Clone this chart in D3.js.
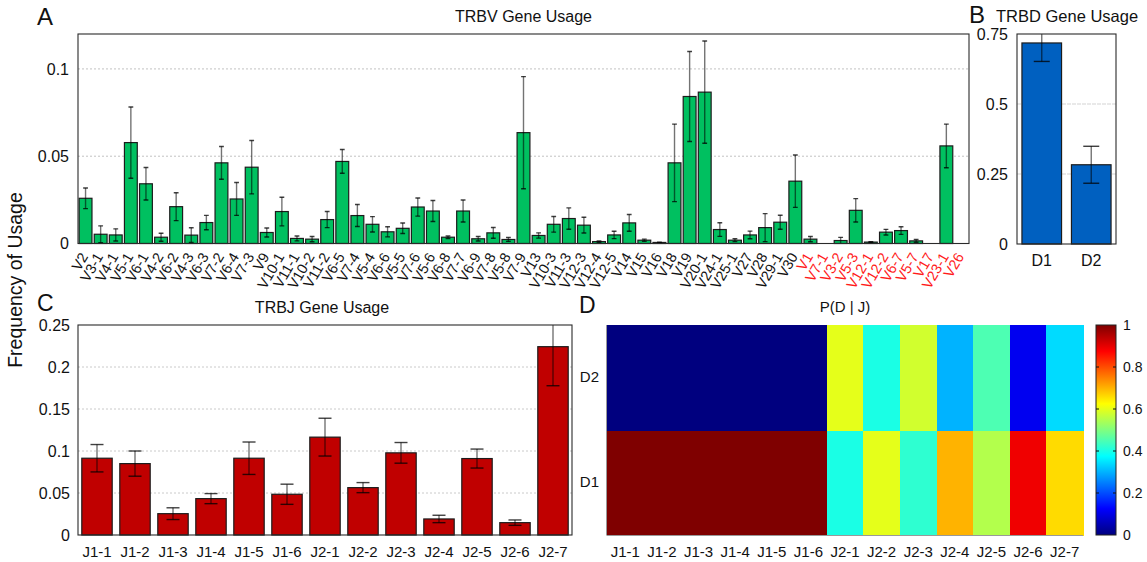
<!DOCTYPE html>
<html>
<head>
<meta charset="utf-8">
<script src="https://cdn.jsdelivr.net/npm/d3@7"></script>
<style>
  body { margin: 0; background: #fff; }
  svg { display: block; font-family: "Liberation Sans", Arial, Helvetica, sans-serif; }
</style>
</head>
<body>
<svg id="fig" width="1147" height="562"></svg>
<script>
// ---- TRBV usage (functional genes, then genes drawn in red) ----
const vGenes = ["V2","V3-1","V4-1","V5-1","V6-1","V4-2","V6-2","V4-3","V6-3","V7-2","V6-4","V7-3",
  "V9","V10-1","V11-1","V10-2","V11-2","V6-5","V7-4","V5-4","V6-6","V5-5","V7-6","V5-6","V6-8",
  "V7-7","V6-9","V7-8","V5-8","V7-9","V13","V10-3","V11-3","V12-3","V12-4","V12-5","V14","V15",
  "V16","V18","V19","V20-1","V24-1","V25-1","V27","V28","V29-1","V30"];
const vGenesRed = ["V1","V7-1","V3-2","V5-3","V12-1","V12-2","V6-7","V5-7","V17","V23-1","V26"];
const vFreq = [0.0259,0.0053,0.0049,0.0578,0.0342,0.0036,0.0211,0.0048,0.0120,0.0462,0.0255,0.0437,
  0.0063,0.0183,0.0029,0.0025,0.0137,0.0470,0.0160,0.0110,0.0067,0.0087,0.0209,0.0186,0.0036,
  0.0186,0.0027,0.0061,0.0023,0.0635,0.0046,0.0110,0.0143,0.0105,0.0011,0.0049,0.0118,0.0019,
  0.0006,0.0462,0.0842,0.0867,0.0080,0.0019,0.0049,0.0091,0.0122,0.0357,
  0.0025,0,0.0017,0.0190,0.0008,0.0065,0.0074,0.0015,0,0.0559,0];
const vErr = [0.0059,0.0048,0.0035,0.0204,0.0093,0.0023,0.0080,0.0042,0.0041,0.0094,0.0094,0.0153,
  0.0026,0.0082,0.0014,0.0015,0.0046,0.0068,0.0063,0.0044,0.0029,0.0030,0.0052,0.0060,0.0007,
  0.0063,0.0013,0.0031,0.0011,0.0321,0.0015,0.0045,0.0061,0.0045,0.0004,0.0021,0.0048,0.0006,
  0.0002,0.0222,0.0258,0.0293,0.0039,0.0008,0.0022,0.0080,0.0040,0.0150,
  0.0015,0,0.0018,0.0067,0.0002,0.0016,0.0022,0.0008,0,0.0125,0];
const vTicks = [0, 0.05, 0.1];

// ---- TRBD usage ----
const dGenes = ["D1","D2"];
const dFreq = [0.718, 0.283];
const dErr = [0.066, 0.066];
const dTicks = [0, 0.25, 0.5, 0.75];

// ---- TRBJ usage ----
const jGenes = ["J1-1","J1-2","J1-3","J1-4","J1-5","J1-6","J2-1","J2-2","J2-3","J2-4","J2-5","J2-6","J2-7"];
const jFreq = [0.0914,0.0850,0.0254,0.0433,0.0914,0.0485,0.1165,0.0564,0.0978,0.0191,0.0910,0.0147,0.2242];
const jErr  = [0.0163,0.0150,0.0070,0.0060,0.0193,0.0120,0.0225,0.0060,0.0123,0.0044,0.0113,0.0032,0.0465];
const jTicks = [0, 0.05, 0.1, 0.15, 0.2, 0.25];

// ---- P(D | J) ----
const pRows = ["D2","D1"];
const pD1 = [1,1,1,1,1,1,0.40,0.60,0.42,0.70,0.55,0.89,0.66];
const pD2 = [0,0,0,0,0,0,0.60,0.40,0.58,0.30,0.45,0.11,0.34];
const cbTicks = [0, 0.2, 0.4, 0.6, 0.8, 1];

const svg = d3.select("#fig");
const fmt = d => String(d);

// jet colormap as a piecewise-linear scale
const jet = d3.scaleLinear()
  .domain([0, 0.125, 0.375, 0.625, 0.875, 1])
  .range(["#00007f", "#0000ff", "#00ffff", "#ffff00", "#ff0000", "#7f0000"])
  .interpolate(d3.interpolateRgb)
  .clamp(true);

function styleAxis(g, size) {
  g.select(".domain").remove();
  g.attr("font-family", null).attr("font-size", size);
  g.selectAll("text").attr("fill", "#111");
}

// Generic bar panel with error bars, grid and frame
function barPanel(o) {
  const g = svg.append("g");
  const x = d3.scaleBand().domain(o.cats).range([o.x0, o.x1])
    .paddingInner(o.padIn).paddingOuter(o.padOut);
  const y = d3.scaleLinear().domain([0, o.max]).range([o.y1, o.y0]);

  const clipId = "clip-" + o.id;
  g.append("clipPath").attr("id", clipId)
    .append("rect").attr("x", o.x0).attr("y", o.y0)
    .attr("width", o.x1 - o.x0).attr("height", o.y1 - o.y0);

  // grid
  g.append("g").selectAll("line")
    .data(o.ticks.filter(t => t > 0 && t < o.max))
    .join("line")
    .attr("x1", o.x0).attr("x2", o.x1)
    .attr("y1", d => y(d)).attr("y2", d => y(d))
    .attr("stroke", o.gridColor).attr("stroke-width", o.gridWidth)
    .attr("stroke-dasharray", o.gridDash);

  const data = o.cats.map((c, i) => ({ c, v: o.vals[i], e: o.errs[i] }));

  // bars
  g.append("g").selectAll("rect")
    .data(data)
    .join("rect")
    .attr("x", d => x(d.c))
    .attr("y", d => y(d.v))
    .attr("width", x.bandwidth())
    .attr("height", d => y(0) - y(d.v))
    .attr("fill", o.color)
    .attr("stroke", "#1c1c1c")
    .attr("stroke-width", 1.2);

  // error bars
  const eb = g.append("g").attr("clip-path", `url(#${clipId})`)
    .selectAll("g").data(data.filter(d => d.e > 0)).join("g");
  const cx = d => x(d.c) + x.bandwidth() / 2;
  eb.append("line")
    .attr("x1", cx).attr("x2", cx)
    .attr("y1", d => y(d.v + d.e)).attr("y2", d => y(d.v - d.e))
    .attr("stroke", "#000").attr("stroke-opacity", 0.55).attr("stroke-width", 1.4);
  [1, -1].forEach(s => {
    eb.append("line")
      .attr("x1", d => cx(d) - o.cap).attr("x2", d => cx(d) + o.cap)
      .attr("y1", d => y(d.v + s * d.e)).attr("y2", d => y(d.v + s * d.e))
      .attr("stroke", "#000").attr("stroke-opacity", 0.75).attr("stroke-width", 1.4);
  });

  // frame
  g.append("rect")
    .attr("x", o.x0).attr("y", o.y0)
    .attr("width", o.x1 - o.x0).attr("height", o.y1 - o.y0)
    .attr("fill", "none").attr("stroke", "#2a2a2a").attr("stroke-width", 1.1);

  // y axis
  const ya = g.append("g").attr("transform", `translate(${o.x0},0)`)
    .call(d3.axisLeft(y).tickValues(o.ticks).tickSize(0).tickPadding(o.yPad).tickFormat(fmt));
  styleAxis(ya, o.yFont);

  // x axis
  const xa = g.append("g").attr("transform", `translate(0,${o.y1})`)
    .call(d3.axisBottom(x).tickSize(0).tickPadding(o.xPad));
  styleAxis(xa, o.xFont);
  return { g, x, y, xa };
}

// ---- Panel A ----
const A = barPanel({
  id: "A", cats: vGenes.concat(vGenesRed), vals: vFreq, errs: vErr,
  x0: 78, x1: 969, y0: 34, y1: 243.5, max: 0.12, ticks: vTicks,
  padIn: 0.15, padOut: 0.075, color: "#00c060", cap: 2.4,
  gridColor: "#bbb", gridWidth: 0.9, gridDash: "2,2",
  yPad: 9, yFont: 16, xPad: 0, xFont: 14.5
});
A.xa.selectAll("text")
  .attr("y", 0).attr("dy", 0).attr("x", 0)
  .attr("text-anchor", "end")
  .attr("transform", "translate(3,13) rotate(-60)")
  .attr("fill", d => vGenesRed.includes(d) ? "#ff1a1a" : "#111");

// ---- Panel B ----
barPanel({
  id: "B", cats: dGenes, vals: dFreq, errs: dErr,
  x0: 1017, x1: 1116, y0: 34, y1: 244, max: 0.75, ticks: dTicks,
  padIn: 0.2, padOut: 0.1, color: "#0060c0", cap: 8,
  gridColor: "#e2e2e2", gridWidth: 1.3, gridDash: "4,1",
  yPad: 9, yFont: 16, xPad: 11, xFont: 16
});

// ---- Panel C ----
barPanel({
  id: "C", cats: jGenes, vals: jFreq, errs: jErr,
  x0: 78, x1: 572, y0: 325, y1: 535, max: 0.25, ticks: jTicks,
  padIn: 0.2, padOut: 0.1, color: "#c00000", cap: 6.5,
  gridColor: "#c4c4c4", gridWidth: 0.9, gridDash: "2,2",
  yPad: 8, yFont: 16, xPad: 11, xFont: 15
});

// ---- Panel D: heatmap of P(D | J) ----
const hx = d3.scaleBand().domain(jGenes).range([607, 1083]);
const hy = d3.scaleBand().domain(pRows).range([325, 535]);
const cells = [];
jGenes.forEach((j, i) => {
  cells.push({ j, d: "D1", v: pD1[i] });
  cells.push({ j, d: "D2", v: pD2[i] });
});
const hg = svg.append("g");
hg.selectAll("rect").data(cells).join("rect")
  .attr("x", d => hx(d.j)).attr("y", d => hy(d.d))
  .attr("width", hx.bandwidth() + 0.6).attr("height", hy.bandwidth() + 0.6)
  .attr("fill", d => jet(d.v))
  .attr("shape-rendering", "crispEdges");
hg.append("line").attr("x1", 607).attr("x2", 1083).attr("y1", 535.5).attr("y2", 535.5)
  .attr("stroke", "#999").attr("stroke-width", 1);
hg.append("line").attr("x1", 606.5).attr("x2", 606.5).attr("y1", 325).attr("y2", 535.5)
  .attr("stroke", "#999").attr("stroke-width", 1);

const hxa = hg.append("g").attr("transform", "translate(0,535)")
  .call(d3.axisBottom(hx).tickSize(0).tickPadding(11));
styleAxis(hxa, 15);
const hya = hg.append("g").attr("transform", "translate(607,0)")
  .call(d3.axisLeft(hy).tickSize(0).tickPadding(8));
styleAxis(hya, 15);

// colorbar
const cb = { x: 1096, w: 20, y0: 325, y1: 535 };
const cy = d3.scaleLinear().domain([0, 1]).range([cb.y1, cb.y0]);
const grad = svg.append("defs").append("linearGradient")
  .attr("id", "jetGrad").attr("x1", 0).attr("y1", 1).attr("x2", 0).attr("y2", 0);
grad.selectAll("stop").data(jet.domain()).join("stop")
  .attr("offset", d => d).attr("stop-color", d => jet(d));
svg.append("rect").attr("x", cb.x).attr("y", cb.y0)
  .attr("width", cb.w).attr("height", cb.y1 - cb.y0)
  .attr("fill", "url(#jetGrad)").attr("stroke", "#222").attr("stroke-width", 1);
const inner = cbTicks.filter(t => t > 0 && t < 1);
svg.append("g").selectAll("line").data(inner.flatMap(t => [[t, cb.x, cb.x + 3], [t, cb.x + cb.w - 3, cb.x + cb.w]]))
  .join("line")
  .attr("x1", d => d[1]).attr("x2", d => d[2])
  .attr("y1", d => cy(d[0])).attr("y2", d => cy(d[0]))
  .attr("stroke", "#111").attr("stroke-width", 1);
const cba = svg.append("g").attr("transform", `translate(${cb.x + cb.w},0)`)
  .call(d3.axisRight(cy).tickValues(cbTicks).tickSize(0).tickPadding(7).tickFormat(fmt));
styleAxis(cba, 14);

// ---- titles and panel letters ----
const txt = (x, y, s, size, anchor) => svg.append("text")
  .attr("x", x).attr("y", y).attr("font-size", size)
  .attr("text-anchor", anchor || "start").attr("fill", "#111").text(s);
txt(523.5, 21.5, "TRBV Gene Usage", 16, "middle");
txt(996, 21.5, "TRBD Gene Usage", 16.5, "start");
txt(322, 313, "TRBJ Gene Usage", 16, "middle");
txt(845, 312, "P(D | J)", 15, "middle");
txt(37, 24.5, "A", 24);
txt(969, 23, "B", 24);
txt(37, 311, "C", 23);
txt(579, 313, "D", 23);

svg.append("text")
  .attr("transform", "translate(22,280) rotate(-90)")
  .attr("text-anchor", "middle").attr("font-size", 19.5).attr("fill", "#111")
  .text("Frequency of Usage");
</script>
</body>
</html>
